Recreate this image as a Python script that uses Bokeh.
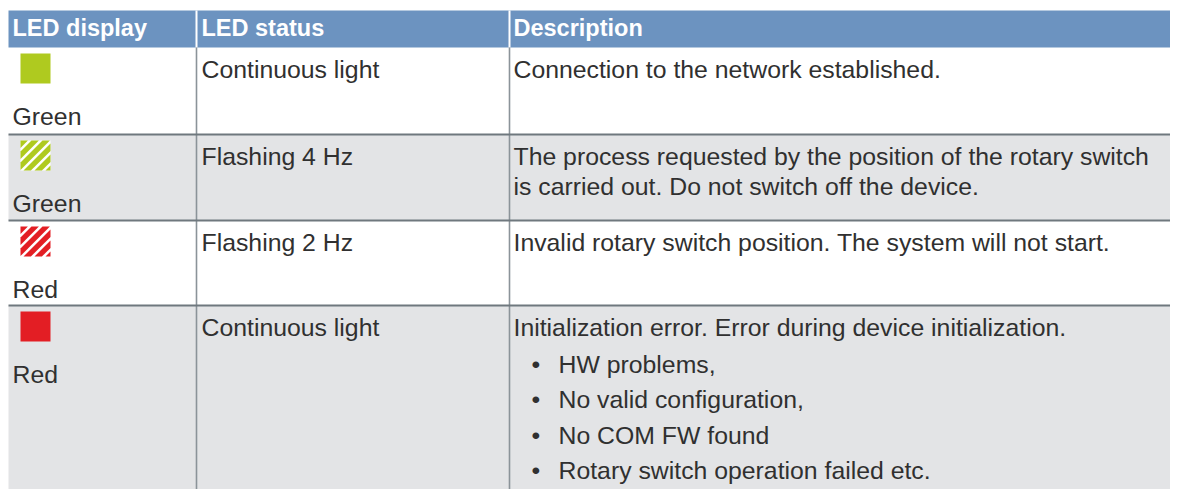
from bokeh.plotting import figure
from bokeh.models import Range1d
from bokeh.core.properties import value
from bokeh.embed import file_html
from bokeh.resources import INLINE

# ---- table content ----
headers = ["LED display", "LED status", "Description"]
led_colors = ["Green", "Green", "Red", "Red"]
led_modes = ["continuous", "flashing", "flashing", "continuous"]
led_status = ["Continuous light", "Flashing 4 Hz", "Flashing 2 Hz", "Continuous light"]
descriptions = [
    ["Connection to the network established."],
    ["The process requested by the position of the rotary switch",
     "is carried out. Do not switch off the device."],
    ["Invalid rotary switch position. The system will not start."],
    ["Initialization error. Error during device initialization."],
]
error_causes = ["HW problems,", "No valid configuration,", "No COM FW found",
                "Rotary switch operation failed etc."]

# ---- layout (pixel coordinates) ----
W, H = 1170, 489
col_edges = [8, 196, 509, 1181]
header_top, header_bottom = 10, 47
row_edges = [47, 134, 220, 305, 520]
row_fills = ["#ffffff", "#e3e4e6", "#ffffff", "#e3e4e6"]
led_hex = {"Green": "#afca1f", "Red": "#e31e24"}
header_color = "#6c93c0"
text_color = "#303030"
FONT = value("Liberation Sans")
BODY_SIZE = "24.8px"
HEAD_SIZE = "23.5px"
SHIFT = -8.5             # baseline correction for svg text
first_baseline = 30      # from row top
second_baseline = 77     # label under icon
line_gap = 30
bullet_first, bullet_gap = 37, 35.5
icon_off, icon_size = 6, 30
stripe_period, stripe_width = 11, 7.4
pad_x = [4, 5, 4]

p = figure(width=W, height=H, x_range=Range1d(0, W), y_range=Range1d(H, 0),
           output_backend="svg", toolbar_location=None, min_border=0)
p.axis.visible = False
p.grid.visible = False
p.outline_line_color = None
p.background_fill_color = "white"
p.border_fill_color = "white"

n = len(led_status)
tops = row_edges[:n]
bottoms = row_edges[1:n + 1]

# row backgrounds
p.quad(left=[col_edges[0]] * n, right=[col_edges[-1]] * n, top=tops, bottom=bottoms,
       fill_color=row_fills, line_color=None)

# header band
p.quad(left=[col_edges[0]], right=[col_edges[-1]], top=[header_top], bottom=[header_bottom],
       fill_color=header_color, line_color=None)
p.segment(x0=col_edges[1:3], x1=col_edges[1:3], y0=[header_top] * 2, y1=[header_bottom] * 2,
          line_color="white", line_width=2)

# grid lines
p.segment(x0=col_edges[1:3], x1=col_edges[1:3], y0=[header_bottom] * 2, y1=[H + 10] * 2,
          line_color="#8b9399", line_width=1.6)
p.segment(x0=[col_edges[0]] * (n - 1), x1=[col_edges[-1]] * (n - 1),
          y0=row_edges[1:n], y1=row_edges[1:n], line_color="#6f787e", line_width=2)


def clip(poly, a, c, keep_ge):
    """clip polygon against half-plane a.(x,y) >= c (or <= c)"""
    out = []
    m = len(poly)
    for k in range(m):
        P, Q = poly[k], poly[(k + 1) % m]
        fp = a[0] * P[0] + a[1] * P[1] - c
        fq = a[0] * Q[0] + a[1] * Q[1] - c
        if not keep_ge:
            fp, fq = -fp, -fq
        if fp >= 0:
            out.append(P)
        if (fp >= 0) != (fq >= 0):
            t = fp / (fp - fq)
            out.append((P[0] + t * (Q[0] - P[0]), P[1] + t * (Q[1] - P[1])))
    return out


# LED icons
for i in range(n):
    col = led_hex[led_colors[i]]
    l, r = 20, 20 + icon_size
    t = tops[i] + icon_off
    b = t + icon_size
    if led_modes[i] == "continuous":
        p.quad(left=[l], right=[r], top=[t], bottom=[b], fill_color=col, line_color=None)
    else:
        p.quad(left=[l], right=[r], top=[t], bottom=[b], fill_color="white", line_color=None)
        box = [(l, t), (r, t), (r, b), (l, b)]
        xs, ys = [], []
        c = -stripe_period
        while c < 2 * icon_size + stripe_period:
            poly = clip(box, (1, 1), l + t + c, True)
            poly = clip(poly, (1, 1), l + t + c + stripe_width, False)
            if len(poly) >= 3:
                xs.append([q[0] for q in poly])
                ys.append([q[1] for q in poly])
            c += stripe_period
        p.patches(xs=xs, ys=ys, fill_color=col, line_color=None)

text_kw = dict(text_font=FONT, text_font_size=BODY_SIZE, text_color=text_color,
               text_baseline="alphabetic")

p.text(x=[c + pad for c, pad in zip(col_edges[:3], pad_x)], y=[36 + SHIFT] * 3, text=headers,
       text_font=FONT, text_font_size=HEAD_SIZE, text_font_style="bold",
       text_color="white", text_baseline="alphabetic")

# LED display labels
p.text(x=[col_edges[0] + pad_x[0]] * n, y=[t + second_baseline + SHIFT for t in tops],
       text=led_colors, **text_kw)

# LED status
p.text(x=[col_edges[1] + pad_x[1]] * n, y=[t + first_baseline + SHIFT for t in tops],
       text=led_status, **text_kw)

# descriptions
dx, dy, dt = [], [], []
for i in range(n):
    for k, line in enumerate(descriptions[i]):
        dx.append(col_edges[2] + pad_x[2])
        dy.append(tops[i] + first_baseline + k * line_gap + SHIFT)
        dt.append(line)
p.text(x=dx, y=dy, text=dt, **text_kw)

# bullet list in last row
m = len(error_causes)
by = [tops[-1] + first_baseline + bullet_first + k * bullet_gap + SHIFT for k in range(m)]
p.text(x=[col_edges[2] + 22] * m, y=by, text=["\u2022"] * m, **text_kw)
p.text(x=[col_edges[2] + 49] * m, y=by, text=error_causes, **text_kw)

open("out.html", "w").write(file_html(p, INLINE))
